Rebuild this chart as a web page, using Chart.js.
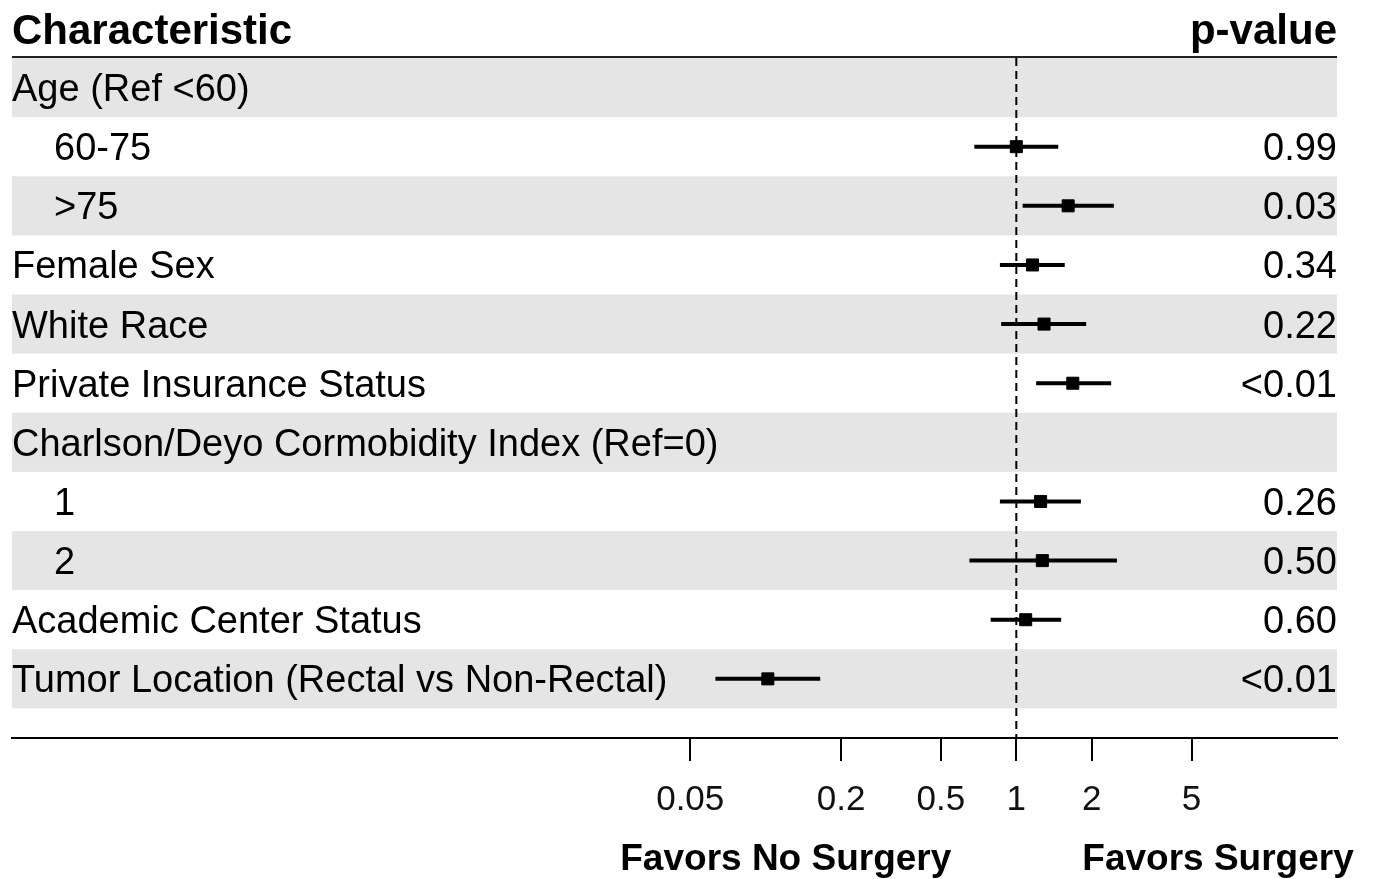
<!DOCTYPE html>
<html>
<head>
<meta charset="utf-8">
<script src="https://cdn.jsdelivr.net/npm/chart.js@4.4.1/dist/chart.umd.min.js"></script>
<style>
  html, body { margin: 0; padding: 0; background: #fff; }
  #wrap { width: 1373px; height: 879px; }
</style>
</head>
<body>
<div id="wrap"><canvas id="forest" width="1373" height="879"></canvas></div>
<script>
// rows, top to bottom
const rowLabels = [
  'Age (Ref <60)', '60-75', '>75', 'Female Sex', 'White Race',
  'Private Insurance Status', 'Charlson/Deyo Cormobidity Index (Ref=0)',
  '1', '2', 'Academic Center Status', 'Tumor Location (Rectal vs Non-Rectal)'
]
const indent   = [0, 1, 1, 0, 0, 0, 0, 1, 1, 0, 0]
const estimate = [null, 1.00, 1.61, 1.16, 1.29, 1.68, null, 1.25, 1.27, 1.09, 0.102]
const lower    = [null, 0.68, 1.06, 0.86, 0.87, 1.20, null, 0.86, 0.65, 0.79, 0.063]
const upper    = [null, 1.47, 2.45, 1.56, 1.90, 2.39, null, 1.81, 2.52, 1.51, 0.165]
const pValues  = ['', '0.99', '0.03', '0.34', '0.22', '<0.01', '', '0.26', '0.50', '0.60', '<0.01']
const xTicks   = [0.05, 0.2, 0.5, 1, 2, 5]

const FONT = '"Liberation Sans", Arial, Helvetica, sans-serif'

// points + whisker segments (null breaks the line between rows)
const points = []
const whiskers = []
estimate.forEach((v, i) => {
  if (v == null) return
  points.push({x: v, y: i})
  whiskers.push({x: lower[i], y: i}, {x: upper[i], y: i}, {x: upper[i], y: null})
})

const tablePlugin = {
  id: 'forestTable',
  beforeDatasetsDraw(chart) {
    const {ctx, chartArea, scales} = chart
    const y = scales.y, x = scales.x
    const h = Math.abs(y.getPixelForValue(1) - y.getPixelForValue(0))
    ctx.save()
    ctx.fillStyle = '#e5e5e5'
    rowLabels.forEach((_, i) => {
      if (i % 2) return
      const c = y.getPixelForValue(i)
      ctx.fillRect(chartArea.left, c - h / 2, chartArea.right - chartArea.left, h)
    })
    // null line
    const x1 = x.getPixelForValue(1)
    ctx.strokeStyle = '#000'
    ctx.lineWidth = 2
    ctx.setLineDash([8, 5])
    ctx.beginPath()
    ctx.moveTo(x1, chartArea.top)
    ctx.lineTo(x1, chartArea.bottom)
    ctx.stroke()
    ctx.restore()
  },
  afterDraw(chart) {
    const {ctx, chartArea, scales} = chart
    const y = scales.y, x = scales.x
    ctx.save()
    ctx.fillStyle = '#000'
    ctx.textBaseline = 'middle'
    ctx.font = '38px ' + FONT
    rowLabels.forEach((lab, i) => {
      const c = y.getPixelForValue(i)
      ctx.textAlign = 'left'
      ctx.fillText(lab, chartArea.left + (indent[i] ? 42 : 0), c + 3)
      ctx.textAlign = 'right'
      if (pValues[i]) ctx.fillText(pValues[i], chartArea.right, c + 3)
    })
    // header
    ctx.font = 'bold 42px ' + FONT
    ctx.textBaseline = 'alphabetic'
    ctx.textAlign = 'left'
    ctx.fillText('Characteristic', chartArea.left, 44)
    ctx.textAlign = 'right'
    ctx.fillText('p-value', chartArea.right, 44)
    ctx.strokeStyle = '#222'
    ctx.lineWidth = 2
    ctx.beginPath()
    ctx.moveTo(chartArea.left, chartArea.top - 1)
    ctx.lineTo(chartArea.right, chartArea.top - 1)
    ctx.stroke()
    // direction labels
    const x1 = x.getPixelForValue(1)
    ctx.font = 'bold 37px ' + FONT
    ctx.textBaseline = 'middle'
    ctx.textAlign = 'right'
    ctx.fillText('Favors No Surgery', x1 - 65, 860)
    ctx.textAlign = 'left'
    ctx.fillText('Favors Surgery', x1 + 66, 860)
    ctx.restore()
  }
}

const chart = new Chart(document.getElementById('forest'), {
  type: 'scatter',
  data: {
    datasets: [
      {
        data: points,
        pointStyle: 'rect',
        pointRadius: 8.5,
        pointHoverRadius: 8.5,
        backgroundColor: '#000',
        borderColor: '#000',
        borderWidth: 1,
        order: 0
      },
      {
        data: whiskers,
        showLine: true,
        spanGaps: false,
        borderColor: '#000',
        borderWidth: 4,
        pointRadius: 0,
        pointHoverRadius: 0,
        order: 1
      }
    ]
  },
  options: {
    responsive: false,
    animation: false,
    devicePixelRatio: 1,
    layout: { padding: { top: 58, left: 12, right: 36, bottom: 0 } },
    plugins: { legend: { display: false }, tooltip: { enabled: false } },
    scales: {
      x: {
        type: 'logarithmic',
        min: 0.0000984,
        max: 19.03,
        afterBuildTicks: (scale) => { scale.ticks = xTicks.map(v => ({value: v})) },
        afterFit: (scale) => { scale.height = 141 },
        ticks: {
          autoSkip: false,
          maxRotation: 0,
          padding: 18,
          color: '#111',
          font: { family: FONT, size: 35 },
          callback: (v) => String(v)
        },
        grid: {
          drawOnChartArea: false,
          drawTicks: true,
          tickLength: 23,
          color: '#000',
          lineWidth: 2
        },
        border: { display: true, color: '#000', width: 2 }
      },
      y: {
        type: 'linear',
        display: false,
        reverse: true,
        min: -0.5,
        max: 11
      }
    }
  },
  plugins: [tablePlugin]
})
</script>
</body>
</html>
